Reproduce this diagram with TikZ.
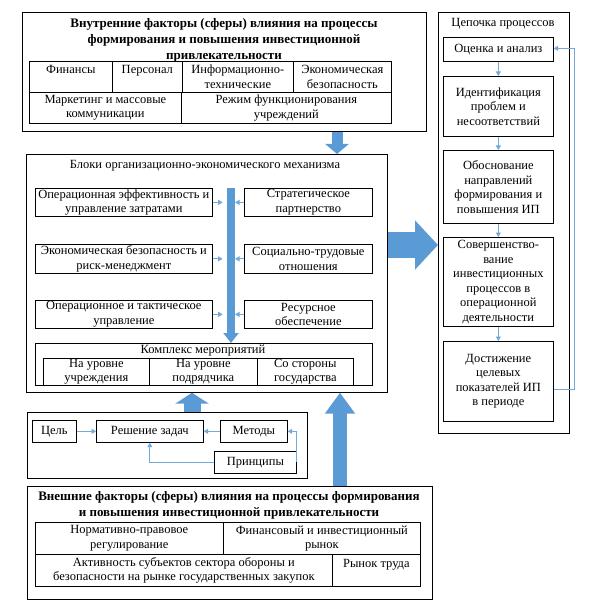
\documentclass[tikz,border=0pt]{standalone}
\usepackage{fontspec}
\setmainfont{Liberation Serif}
\usetikzlibrary{arrows.meta, calc}
\definecolor{block fill}{HTML}{5B9BD5}
\colorlet{link color}{block fill!85!white}
\newcommand{\cellfont}{\fontsize{12.5}{14.5}\selectfont}
\newcommand{\headfont}{\fontsize{13}{16}\selectfont\bfseries}
\tikzset{
  frame/.style={draw, anchor=north west, inner sep=0pt, line width=0.7pt},
  cell/.style={draw, anchor=north west, align=center, inner sep=0pt, line width=0.7pt, font=\cellfont},
  caption/.style={align=center, inner sep=0pt, font=\cellfont},
  heading/.style={align=center, inner sep=0pt, font=\headfont},
  link/.style={draw=link color, line width=0.9pt, -{Triangle[width=5pt,length=4.5pt]}},
  block/.style n args={3}{draw=block fill, line width=#1, -{Triangle[width=#2,length=#3]}}
}

\begin{document}
\begin{tikzpicture}[x=1pt, y=-1pt]
    \useasboundingbox (0,0) rectangle (589,604);
    % internal factors
    \node[frame, minimum width=404, minimum height=119] (inner) at (22,12) {};
    \node[heading] (intitle) at (224,40) {Внутренние факторы (сферы) влияния на процессы\\формирования и повышения инвестиционной\\привлекательности};
    \node[cell, minimum width=83, minimum height=31] (fin) at (29,61) {Финансы\\\mbox{}};
    \node[cell, minimum width=70, minimum height=31] (staff) at (112,61) {Персонал\\\mbox{}};
    \node[cell, minimum width=111, minimum height=31] (info) at (182,61) {Информационно-\\технические};
    \node[cell, minimum width=98, minimum height=31] (esec) at (293,61) {Экономическая\\безопасность};
    \node[cell, minimum width=152, minimum height=31] (mark) at (29,92) {Маркетинг и массовые\\коммуникации};
    \node[cell, minimum width=210, minimum height=31] (mode) at (181,92) {Режим функционирования\\учреждений};

    % mechanism
    \node[frame, minimum width=361, minimum height=238] (mech) at (26,154) {};
    \node[caption] (mechtitle) at (205,166) {Блоки организационно-экономического механизма};
    \node[cell, minimum width=177, minimum height=28] (opeff) at (35,188) {Операционная эффективность и\\управление затратами};
    \node[cell, minimum width=177, minimum height=29] (risk) at (35,244) {Экономическая безопасность и\\риск-менеджмент};
    \node[cell, minimum width=177, minimum height=28] (tact) at (35,300) {Операционное и тактическое\\управление};
    \node[cell, minimum width=128, minimum height=28] (part) at (244,188) {Стратегическое\\партнерство};
    \node[cell, minimum width=128, minimum height=29] (soc) at (244,244) {Социально-трудовые\\отношения};
    \node[cell, minimum width=128, minimum height=28] (res) at (244,300) {Ресурсное\\обеспечение};
    \node[frame, minimum width=337, minimum height=42] (cplx) at (35,343) {};
    \node[caption] (cplxtitle) at (203,351) {Комплекс мероприятий};
    \node[cell, minimum width=106, minimum height=27] (lv1) at (43,358) {На уровне\\учреждения};
    \node[cell, minimum width=108, minimum height=27] (lv2) at (149,358) {На уровне\\подрядчика};
    \node[cell, minimum width=96, minimum height=27] (lv3) at (257,358) {Со стороны\\государства};
    \coordinate (spine) at (231,188);
    \draw[block={8pt}{15pt}{10pt}] (spine) -- (cplx.north -| spine);
    \foreach \b in {opeff, risk, tact} \draw[link] (\b.east) -- ++(10,0);
    \foreach \b in {part, soc, res} \draw[link] (\b.west) -- ++(-9,0);

    % tools
    \node[frame, minimum width=280, minimum height=66] (tools) at (27,412) {};
    \node[cell, minimum width=44, minimum height=22] (goal) at (32,420) {Цель};
    \node[cell, minimum width=107, minimum height=22] (solve) at (96,420) {Решение задач};
    \node[cell, minimum width=67, minimum height=22] (meth) at (220,420) {Методы};
    \node[cell, minimum width=82, minimum height=22] (princ) at (214,451) {Принципы};
    \draw[link] (goal) -- (solve);
    \draw[link] (meth) -- (solve);
    \draw[link] (princ.east) |- (meth.east);
    \draw[link] (princ.west) -| (solve.south);

    % external factors
    \node[frame, minimum width=405, minimum height=113] (outer) at (27,486) {};
    \node[heading] (outtitle) at (229,505) {Внешние факторы (сферы) влияния на процессы формирования\\и повышения инвестиционной привлекательности};
    \node[cell, minimum width=188, minimum height=32] (norm) at (35,522) {Нормативно-правовое\\регулирование};
    \node[cell, minimum width=197, minimum height=32] (finm) at (223,522) {Финансовый и инвестиционный\\рынок};
    \node[cell, minimum width=297, minimum height=32] (act) at (35,554) {Активность субъектов сектора обороны и\\безопасности на рынке государственных закупок};
    \node[cell, minimum width=88, minimum height=32] (labour) at (332,554) {Рынок труда\\\mbox{}};

    % process chain
    \node[frame, minimum width=131, minimum height=421] (chain) at (438,12) {};
    \node[caption] (chaintitle) at (503,24) {Цепочка процессов};
    \node[cell, minimum width=110, minimum height=24] (c1) at (443,37) {Оценка и анализ};
    \node[cell, minimum width=110, minimum height=60] (c2) at (443,76) {Идентификация\\проблем и\\несоответствий};
    \node[cell, minimum width=110, minimum height=73] (c3) at (443,150) {Обоснование\\направлений\\формирования и\\повышения ИП};
    \node[cell, minimum width=110, minimum height=89] (c4) at (443,237) {Совершенство-\\вание\\инвестиционных\\процессов в\\операционной\\деятельности};
    \node[cell, minimum width=110, minimum height=80] (c5) at (443,341) {Достижение\\целевых\\показателей ИП\\в периоде};
    \foreach \a/\b in {c1/c2, c2/c3, c3/c4, c4/c5} \draw[link] (\a) -- (\b);
    \draw[link] ([yshift=-8pt]c5.east) -- ++(21,0) |- ([yshift=1pt]c1.east);

    % block arrows
    \coordinate (a1) at (337,0);
    \coordinate (a2) at (192,0);
    \coordinate (a3) at (340,0);
    \coordinate (a4) at (0,245);
    \draw[block={11pt}{23pt}{10pt}] (inner.south -| a1) -- (mech.north -| a1);
    \draw[block={17pt}{33pt}{11pt}] (tools.north -| a2) -- (mech.south -| a2);
    \draw[block={14pt}{29pt}{21pt}] (outer.north -| a3) -- (mech.south -| a3);
    \draw[block={26pt}{48pt}{23pt}] (mech.east |- a4) -- (chain.west |- a4);
\end{tikzpicture}
\end{document}
